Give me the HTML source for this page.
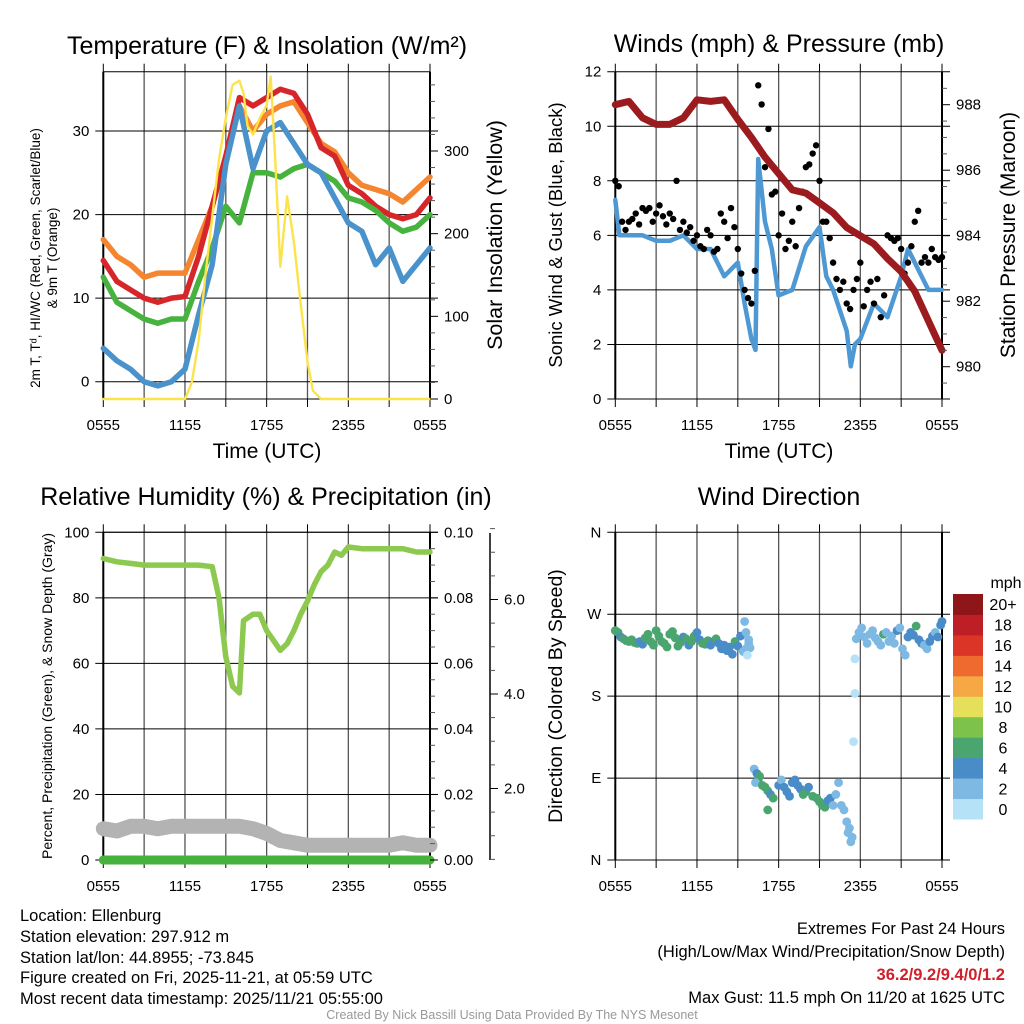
<!DOCTYPE html>
<html><head><meta charset="utf-8"><style>
body{margin:0;background:#fff}
svg{display:block;font-family:"Liberation Sans",sans-serif}
</style></head><body>
<svg id="s" width="1024" height="1024" viewBox="0 0 1024 1024" xmlns="http://www.w3.org/2000/svg">
<rect width="1024" height="1024" fill="#fff"/>
<g id="g"></g>
<g font-size="16.5" fill="#000">
<text x="20" y="921">Location: Ellenburg</text>
<text x="20" y="942">Station elevation: 297.912 m</text>
<text x="20" y="963">Station lat/lon: 44.8955; -73.845</text>
<text x="20" y="983">Figure created on Fri, 2025-11-21, at 05:59 UTC</text>
<text x="20" y="1004">Most recent data timestamp: 2025/11/21 05:55:00</text>
</g>
<g font-size="16.5" text-anchor="end">
<text x="1005" y="934">Extremes For Past 24 Hours</text>
<text x="1005" y="957">(High/Low/Max Wind/Precipitation/Snow Depth)</text>
<text x="1005" y="980" fill="#d0202a" font-weight="bold">36.2/9.2/9.4/0/1.2</text>
<text x="1005" y="1003">Max Gust: 11.5 mph On 11/20 at 1625 UTC</text>
</g>
<text x="512" y="1019" font-size="12.5" fill="#999" text-anchor="middle">Created By Nick Bassill Using Data Provided By The NYS Mesonet</text>
</svg>
<script>
// ---- data ----
const hours=[0,1,2,3,4,5,6,7,8,9,10,11,12,13,14,15,16,17,18,19,20,21,22,23,24];
const tickLabels=["0555","1155","1755","2355","0555"];
const temp9m=[17,15,14,12.5,13,13,13,17,21,27,33,30,32,33,33.5,31,28.5,27.5,25,23.5,23,22.5,21.5,23,24.5];
const tempRed=[14.5,12,11,10,9.5,10,10.2,15,21,27,34,33,34,35,34.5,32,28,27,23.5,22.5,21,20,19.5,20,22];
const tempGreen=[12.5,9.5,8.5,7.5,7,7.5,7.5,12,16,21,19,25,25,24.5,25.5,26,25,24,22,21.5,20.5,19,18,18.5,20];
const tempBlue=[4,2.5,1.5,0,-0.5,0,1.5,8,14,26,33,25.5,30,31,28.5,26,25,22,19,18,14,16,12,14,16];
const solarTimes=[0,6,6.5,7,7.5,8,8.5,9,9.5,10,10.3,10.6,11,11.5,12,12.3,12.6,13,13.5,14,14.5,15,15.4,16,24];
const solarVals=[0,0,20,70,150,220,290,340,380,385,370,330,320,340,355,390,300,160,245,190,115,45,10,0,0];
const sonicTimes=[0,0.3,1,2,3,4,5,6,7,8,9,9.5,10,10.3,10.5,11,11.5,12,13,14,15,15.5,16,17,17.3,17.6,18,19,20,21,21.5,22,23,24];
const sonicVals=[7.3,6,6,6,5.8,5.8,6,5.5,5.5,4.5,5,3.5,2.2,1.8,8.8,6.5,5.5,3.8,4,5.6,6.3,4.5,4,2.5,1.2,2,2.2,3.5,3,4.5,5.5,5,4,4];
const gustA=[8,6.5,6.5,6.8,7,7,6.8,6.7,6.8,8,6.5,6.3,6,5.5,6,5.5,6.5,7,5.5,4,3.5,11.5,8.5,7.5,6,5.5,6.5,7,8.5,9,8,6.5,5,4,3.5,4,5,4,3.5,3,6,5.8,5.5,5,6.5,5,5,5.2,5.2];
const gustB=[7.8,6.2,6.6,6.4,6.9,6.5,7.1,6.4,6.6,6.2,6.1,5.8,5.6,6.2,5.4,6.8,5.9,6.3,4.6,3.7,4.7,10.8,9.9,7.6,6.8,5.8,5.6,7.6,8.6,9.3,6.5,5.9,4.4,4.3,3.3,4.4,3.4,4.3,4.4,3.8,5.9,5.9,4.6,5.6,6.9,5.2,5.5,5.1];
const pressure=[988.0,988.1,987.6,987.4,987.4,987.6,988.15,988.1,988.15,987.55,987.0,986.4,985.9,985.4,985.3,985.0,984.7,984.25,984.0,983.75,983.3,982.9,982.3,981.4,980.5];
const rhTimes=[0,1,2,3,4,5,6,7,8,8.5,9,9.5,10,10.3,11,11.5,12,12.5,13,13.5,14,14.5,15,15.5,16,16.5,17,17.5,18,19,20,21,22,23,24];
const rhVals=[92,91,90.5,90,90,90,90,90,89.5,80,62,53,51,73,75,75,70,67,64,66,70,75,79,84,88,90,94,93,95.5,95,95,95,95,94,94];
const snowDepth=[1.15,1.1,1.2,1.2,1.15,1.2,1.2,1.2,1.2,1.2,1.2,1.15,1.05,0.9,0.85,0.8,0.8,0.8,0.8,0.8,0.8,0.8,0.85,0.8,0.8];
const precip=[0,0,0,0,0,0,0,0,0,0,0,0,0,0,0,0,0,0,0,0,0,0,0,0,0];
const dirTimes=[0,0.2,0.4,0.6,0.8,1,1.2,1.4,1.6,1.8,2,2.2,2.4,2.6,2.8,3,3.2,3.4,3.6,3.8,4,4.2,4.4,4.6,4.8,5,5.2,5.4,5.6,5.8,6,6.2,6.4,6.6,6.8,7,7.2,7.4,7.6,7.8,8,8.2,8.4,8.6,8.8,9,9.2,9.4,9.6,9.8,9.5,9.6,9.8,9.9,9.7,
10.2,10.4,10.5,10.6,10.3,10.8,11,11.2,11.4,11.6,11.2,12,12.2,12.4,12.6,12.8,13,13.2,13.4,13.6,13.8,14,14.2,14.5,14.8,15,15.2,15.4,15.6,15.8,16,16.2,16.4,16.6,16.8,17,17.2,17.4,17.3,17.1,
17.6,17.6,17.5,
17.7,17.9,18.1,18.3,18.5,18.7,18.9,19.1,19.3,19.5,19.7,19.9,20.1,20.3,20.5,20.7,20.9,21.1,21.3,21.5,21.7,21.9,22.1,22.3,22.5,22.7,22.9,23.1,23.3,23.5,23.7,23.9,24];
const dirVals=[252,250,245,243,241,240,242,239,238,240,237,244,248,240,236,252,246,240,238,234,248,251,244,235,239,245,243,236,240,246,250,242,238,237,241,236,240,243,238,232,236,230,234,226,240,235,246,229,232,238,262,250,242,233,225,
100,95,88,92,85,82,80,76,72,68,55,82,88,80,75,70,85,88,82,78,72,75,80,70,68,64,60,58,65,68,60,72,85,60,55,42,35,25,20,30,
221,183,130,
243,250,255,245,238,248,252,244,240,236,248,250,240,246,238,252,255,232,225,245,250,247,257,242,238,236,232,240,246,250,245,258,262];
const dirSpeeds=[6.5,6.2,4.5,6.3,6.4,6.6,6.5,6.2,6.1,4.8,4.5,6.7,6.8,6.2,6.3,7,6.5,6.4,6.6,6.2,6.8,7,6.5,6.3,6.4,5.5,6.4,5,6.1,6.6,5,4.8,6.2,6.4,6.3,4.5,4.7,6.2,5,4.6,4.4,4.8,4.2,5,6.5,4.5,5.2,3,3.5,2.5,3.5,3,2.5,2.5,1,
2.5,4.5,7.5,6.5,2.5,6.2,6.5,6.5,4.5,6.3,6.5,4.5,2.5,4.5,4.3,4.5,4.5,4.5,5,4.5,6.5,6.3,4.5,6.4,6.5,6.5,6.6,6.8,4.5,4.2,2.5,3,2.5,2.5,2.5,2.5,2.5,2.5,2.5,2.5,
1,1.5,1,
3,3.5,3,2.5,3,3.5,2.5,2.5,3,2.5,7,3.5,2.5,3,2.5,4.5,3.5,3.5,3.5,4.5,4.5,5,7,4.5,4.5,3,3.5,4.5,4.5,3.5,4.5,4.5,4.5];
const speedBins=["0","2","4","6","8","10","12","14","16","18","20+"];
const speedColors=["#b5e2f6","#7db9e3","#4a8cc7","#4aa56f","#7cc24b","#e5df5a","#f5a843","#ee6a2e","#db3528","#be1e26","#8e1619"];

// ---- helpers ----
const NS="http://www.w3.org/2000/svg";
const G=document.getElementById('g');
function el(tag,attrs,parent,text){const e=document.createElementNS(NS,tag);for(const k in attrs)e.setAttribute(k,attrs[k]);if(text!==undefined)e.textContent=text;(parent||G).appendChild(e);return e;}
function lin(d0,d1,r0,r1){return v=>r0+(v-d0)*(r1-r0)/(d1-d0);}
function pathOf(xs,ys,fx,fy){return xs.map((x,i)=>(i?'L':'M')+fx(x).toFixed(1)+','+fy(ys[i]).toFixed(1)).join('');}
const L=103.3,R=430,L2=615.3,R2=942;
function frame(name,x0,x1,y0,y1,yTicks,fy,yLab){
  const grp=el('g',{});
  
  
  const fx=lin(0,24,x0,x1);
  for(let h=0;h<=24;h+=3){const ln=el('line',{x1:fx(h),x2:fx(h),y1:y0,y2:y1,stroke:'#555','stroke-width':1.3},grp);
    const tk=el('line',{x1:fx(h),x2:fx(h),y1:y1,y2:y1+8,stroke:'#000'},grp);
    const tt=el('line',{x1:fx(h),x2:fx(h),y1:y0-8,y2:y0,stroke:'#000'},grp);}
  yTicks.forEach((v,i)=>{const y=fy(v);const ln=el('line',{x1:x0-8,x2:x1+8,y1:y,y2:y,stroke:'#000','stroke-width':1},grp);
    const t=el('text',{x:x0-14,y:y+5,'font-size':15,'text-anchor':'end'},grp,yLab[i]);});
  tickLabels.forEach((s,i)=>{const t=el('text',{x:fx(i*6),y:y1+31,'font-size':15,'text-anchor':'middle'},grp,s);});
  const b1=el('line',{x1:x0,x2:x0,y1:y0,y2:y1,stroke:'#000','stroke-width':2},grp);
  const b2=el('line',{x1:x1,x2:x1,y1:y0,y2:y1,stroke:'#000','stroke-width':2},grp);
  return fx;
}
function title(x,y,s,name){const t=el('text',{x:x,y:y,'font-size':25,'text-anchor':'middle'},G,s);return t;}
function vlab(x,y,s,size,name){const t=el('text',{x:0,y:0,'font-size':size,'text-anchor':'middle',transform:`translate(${x},${y}) rotate(-90)`},G,s);return t;}
function rticks(x,vals,labs,fy,name,minor){vals.forEach((v,i)=>{const y=fy(v);const tk=el('line',{x1:x,x2:x+8,y1:y,y2:y,stroke:'#000'});
  const t=el('text',{x:x+14,y:y+5,'font-size':15},G,labs[i]);});
  (minor||[]).forEach(v=>{const y=fy(v);const tk=el('line',{x1:x,x2:x+5,y1:y,y2:y,stroke:'#555'});});}
function series(xs,ys,fx,fy,color,w,name){const p=el('path',{d:pathOf(xs,ys,fx,fy),fill:'none',stroke:color,'stroke-width':w,'stroke-linejoin':'round','stroke-linecap':'round'});return p;}

// ---- Panel 1: temperature ----
{
 const top=71.7,bot=399;
 const fy=lin(0,30,381.7,131), fs=lin(0,300,399,151);
 const fx=frame('temperature',L,R,top,bot,[0,10,20,30],fy,['0','10','20','30']);
 const fr=el('line',{x1:L,x2:R,y1:top,y2:top,stroke:'#000'});
 const fb=el('line',{x1:L,x2:R,y1:bot,y2:bot,stroke:'#000'});
 series(hours,temp9m,fx,fy,'#f5852f',5.5,'temp-9m-line');
 series(hours,tempRed,fx,fy,'#d7262a',5.5,'temp-2m-line');
 series(hours,tempGreen,fx,fy,'#47b33e',5.5,'dewpoint-line');
 series(hours,tempBlue,fx,fy,'#4a92cc',5.5,'windchill-line');
 series(solarTimes,solarVals,fx,fs,'#fde34a',2.4,'insolation-line');
 rticks(R,[0,100,200,300],['0','100','200','300'],fs,'insolation',[20,40,60,80,120,140,160,180,220,240,260,280,320,340,360,380]);
 title(267,54,'Temperature (F) & Insolation (W/m\u00B2)','temperature-title');
 vlab(40,258,'2m T, T\u1D48, HI/WC (Red, Green, Scarlet/Blue)',13.5,'temperature-y-title');
 vlab(57,258,'& 9m T (Orange)',13.5,'temperature-y-title-2');
 vlab(502,235,'Solar Insolation (Yellow)',21.5,'insolation-y-title');
 const xt=el('text',{x:267,y:458,'font-size':21,'text-anchor':'middle'},G,'Time (UTC)');
}
// ---- Panel 2: winds ----
{
 const top=71.7,bot=399;
 const fy=lin(0,12,399,71.7), fp=lin(980,988,366.7,104.7);
 const fx=frame('winds',L2,R2,top,bot,[0,2,4,6,8,10,12],fy,['0','2','4','6','8','10','12']);
 series(sonicTimes,sonicVals,fx,fy,'#4e98d3',4.5,'sonic-wind-line');
 gustA.forEach((v,i)=>{const c=el('circle',{cx:fx(i*0.5),cy:fy(v),r:3.2,fill:'#000'});});
 gustB.forEach((v,i)=>{const c=el('circle',{cx:fx(i*0.5+0.25),cy:fy(v),r:3.2,fill:'#000'});});
 series(hours,pressure,fx,fp,'#9b1b1e',7,'pressure-line');
 rticks(R2,[980,982,984,986,988],['980','982','984','986','988'],fp,'pressure',[979.5,980.5,981,981.5,982.5,983,983.5,984.5,985,985.5,986.5,987,987.5,988.5]);
 title(779,52,'Winds (mph) & Pressure (mb)','winds-title');
 vlab(562,235,'Sonic Wind & Gust (Blue, Black)',18.5,'winds-y-title');
 vlab(1015,235,'Station Pressure (Maroon)',21,'pressure-y-title');
 const xt=el('text',{x:779,y:458,'font-size':21,'text-anchor':'middle'},G,'Time (UTC)');
}
// ---- Panel 3: RH ----
{
 const top=532.3,bot=860;
 const fy=lin(0,100,860,532.3), fpr=lin(0,0.1,860,532.3), fsn=lin(0,2,883,788.5);
 const fx=frame('humidity',L,R,top,bot,[0,20,40,60,80,100],fy,['0','20','40','60','80','100']);
 const ft=el('line',{x1:L,x2:R,y1:top,y2:top,stroke:'#000'});
 series(hours,snowDepth,fx,fsn,'#b3b3b3',15,'snow-depth-line');
 series(hours,precip,fx,fpr,'#46b23e',9,'precipitation-line');
 series(rhTimes,rhVals,fx,fy,'#8dc94e',5.5,'humidity-line');
 rticks(R,[0,0.02,0.04,0.06,0.08,0.1],['0.00','0.02','0.04','0.06','0.08','0.10'],fpr,'precip',[0.01,0.03,0.05,0.07,0.09,0.005,0.015,0.025,0.035,0.045,0.055,0.065,0.075,0.085,0.095]);
 const sa=el('line',{x1:490,x2:490,y1:533,y2:860,stroke:'#000','stroke-width':1.5});
 rticks(490,[2,4,6],['2.0','4.0','6.0'],fsn,'snow',[0.5,1,1.5,2.5,3,3.5,4.5,5,5.5,6.5,7,7.5]);
 title(266,505,'Relative Humidity (%) & Precipitation (in)','humidity-title');
 vlab(52,696,'Percent, Precipitation (Green), & Snow Depth (Gray)',14,'humidity-y-title');
}
// ---- Panel 4: wind direction ----
{
 const top=532.3,bot=860;
 const fy=lin(0,360,860,532.3);
 const fx=frame('direction',L2,R2,top,bot,[0,90,180,270,360],fy,['N','E','S','W','N']);
 dirTimes.forEach((t,i)=>{let b=Math.min(10,Math.floor(dirSpeeds[i]/2));
   const c=el('circle',{cx:fx(t),cy:fy(dirVals[i]),r:4.4,fill:speedColors[b]});
   
   });
 title(779,505,'Wind Direction','direction-title');
 vlab(562,696,'Direction (Colored By Speed)',19.5,'direction-y-title');
 const lg=el('g',{});
 const h=(819-594)/11;
 speedBins.forEach((s,i)=>{const y=819-(i+1)*h;
   const r=el('rect',{x:953,y:y,width:30,height:h+0.5,fill:speedColors[i]},lg);
   const t=el('text',{x:1003,y:y+h/2+6,'font-size':16,'text-anchor':'middle'},lg,s);});
 const mt=el('text',{x:1006,y:588,'font-size':16,'text-anchor':'middle'},lg,'mph');
}
</script>
</body></html>
